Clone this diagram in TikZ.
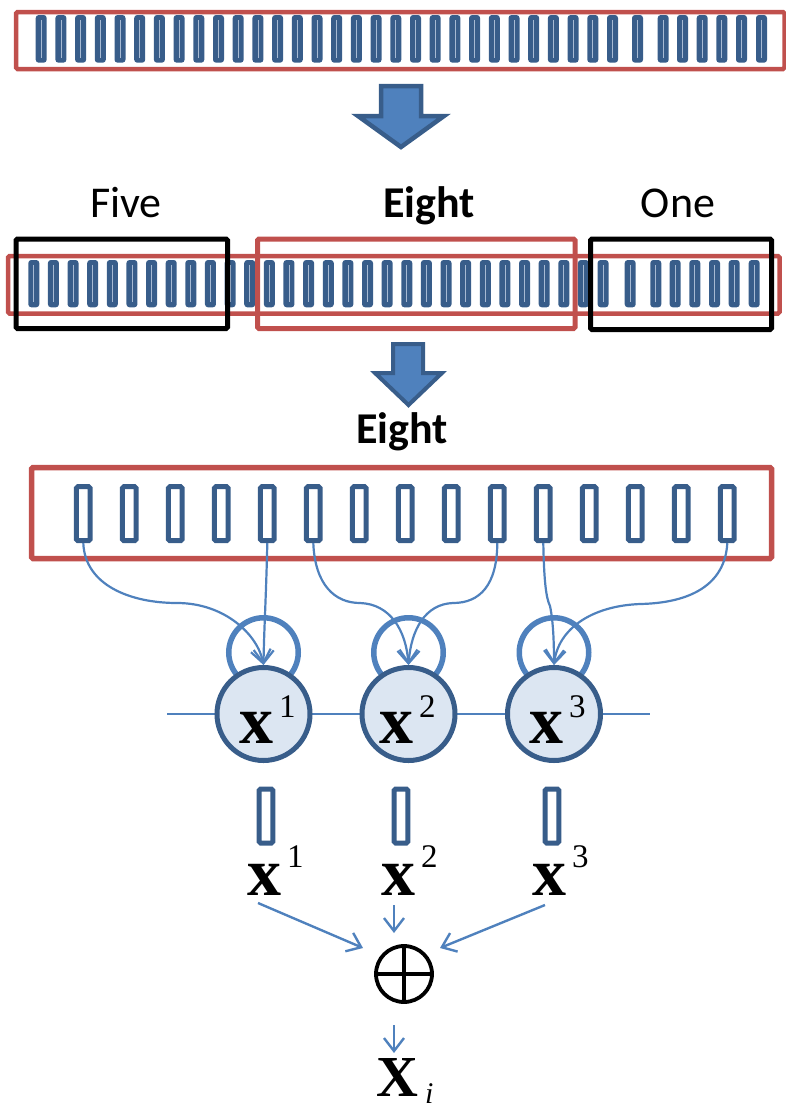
\documentclass[tikz,border=0pt]{standalone}
\usepackage{fontspec}
\newfontfamily\calfont{Carlito}
\newfontfamily\tnr{Liberation Serif}
\usetikzlibrary{arrows.meta}
\definecolor{redb}{HTML}{C0504D}
\definecolor{dkb}{HTML}{385D8A}
\definecolor{mdb}{HTML}{4F81BD}
\definecolor{ltb}{HTML}{DCE6F2}
\definecolor{core}{HTML}{A7BAD3}
\newcommand\vx[3]{{\tnr\fontsize{#1}{#1}\selectfont\bfseries x}\hspace{6pt}\raisebox{#2}{\tnr\fontsize{33}{33}\selectfont #3}}
\begin{document}
\begin{tikzpicture}[x=1pt,y=-1pt,
  redbox/.style={draw=redb,line width=4.5pt,rounded corners=1.5pt},
  blkbox/.style={draw=black,line width=5pt,rounded corners=1.5pt},
  thinbar/.style={fill=dkb,rounded corners=3pt},
  barcore/.style={draw=core,line width=0.7pt},
  fatbar/.style={draw=dkb,fill=white,line width=5pt,rounded corners=1.5pt,minimum width=13.7pt,minimum height=54pt,inner sep=0pt},
  bigarrow/.style={draw=dkb,fill=mdb,line width=4.5pt,line join=miter},
  lab/.style={font=\calfont\fontsize{44}{44}\selectfont,anchor=base,inner sep=0pt},
  blab/.style={font=\calfont\bfseries\fontsize{44}{44}\selectfont,anchor=base,inner sep=0pt},
  state/.style={circle,draw=dkb,fill=ltb,line width=5pt,minimum size=93pt,inner sep=0pt},
  loopc/.style={circle,draw=mdb,line width=5.5pt,minimum size=69.5pt,inner sep=0pt},
  conn/.style={draw=mdb,line width=2.2pt,-{Straight Barb[length=13pt,width=20pt]}},
  sconn/.style={draw=mdb,line width=2.4pt,-{Straight Barb[length=13pt,width=20pt]}},
  hline/.style={draw=mdb,line width=1.8pt},
  mlab/.style={anchor=base west,inner sep=0pt}
]
\useasboundingbox (0,0) rectangle (786,1112);

% ---------- top strip ----------
\draw[redbox] (16,12) rectangle (784.5,69);
\foreach \k in {0,...,29}{
  \pgfmathsetmacro\xx{35.7+19.7*\k}
  \fill[thinbar] (\xx,15) rectangle ++(11,47.7);
  \draw[barcore] (\xx+5.5,20) -- (\xx+5.5,57.7);
}
\foreach \xx in {632,657.7,677,696.7,716.3,736,756}{
  \fill[thinbar] (\xx,15) rectangle ++(11,47.7);
  \draw[barcore] (\xx+5.5,20) -- (\xx+5.5,57.7);
}

% ---------- arrow 1 ----------
\draw[bigarrow] (381,86) -- (421,86) -- (421,116) -- (444,116) -- (401,147) -- (358,116) -- (381,116) -- cycle;

% ---------- labels ----------
\node[lab] (five) at (126,217.5) {Five};
\node[blab] (eightA) at (429,217.5) {Eight};
\node[lab] (one) at (678,217.5) {One};

% ---------- middle strip ----------
\draw[redbox] (8,256) rectangle (779.5,313.5);
\foreach \k in {0,...,29}{
  \pgfmathsetmacro\xx{28.3+19.63*\k}
  \fill[thinbar] (\xx,260) rectangle ++(11,47.3);
  \draw[barcore] (\xx+5.5,265) -- (\xx+5.5,302.3);
}
\foreach \xx in {624.7,650.3,669.7,689.3,709,728.7,748.7}{
  \fill[thinbar] (\xx,260) rectangle ++(11,47.3);
  \draw[barcore] (\xx+5.5,265) -- (\xx+5.5,302.3);
}
\draw[blkbox] (16,239) rectangle (227.5,328.5);
\draw[redbox,line width=5pt] (257.5,239) rectangle (575,328.5);
\draw[blkbox] (590.5,239) rectangle (771.5,329.5);

% ---------- arrow 2 ----------
\draw[bigarrow,line width=4pt] (393,344) -- (423,344) -- (423,373) -- (442,373) -- (408.5,405) -- (375,373) -- (393,373) -- cycle;

\node[blab] (eightB) at (402,443) {Eight};

% ---------- bottom strip ----------
\draw[redbox,line width=5.5pt] (31.5,467.5) rectangle (771.5,558.5);
\foreach \k in {0,...,14}{
  \node[fatbar] (c\k) at (83.3+46*\k,513.7) {};
}

% ---------- chain ----------
\coordinate (hl) at (167,714);
\coordinate (hr) at (650,714);
\node[loopc] (lp1) at (263.5,652.5) {};
\node[loopc] (lp2) at (408.5,652.5) {};
\node[loopc] (lp3) at (554,652.5) {};
\draw[hline] (hl) -- (hr);
\node[state] (n1) at (263.5,714) {};
\node[state] (n2) at (408.5,714) {};
\node[state] (n3) at (554,714) {};
\node[mlab] (t1) at (239,743) {\vx{68}{26pt}{1}};
\node[mlab] (t2) at (379,743) {\vx{68}{26pt}{2}};
\node[mlab] (t3) at (529,743) {\vx{68}{26pt}{3}};

% ---------- curves ----------
\draw[conn] (c0.south) .. controls (85,585) and (130,603) .. (177,603)
            .. controls (225,603) and (258,635) .. (n1.north);
\draw[conn] (c4.south) .. controls (266,600) and (264,630) .. (n1.north);
\draw[conn] (c5.south) .. controls (315,585) and (335,603) .. (360,603)
            .. controls (390,604) and (406,630) .. (n2.north);
\draw[conn] (c9.south) .. controls (497,585) and (480,603) .. (453,603)
            .. controls (425,604) and (411,630) .. (n2.north);
\draw[conn] (c10.south) .. controls (544,580) and (546,598) .. (550,606)
            .. controls (553,620) and (554,640) .. (n3.north);
\draw[conn] (c14.south) .. controls (725,585) and (690,603) .. (640,604)
            .. controls (590,606) and (558,630) .. (n3.north);

% ---------- outputs ----------
\node[fatbar] (s1) at (266,816) {};
\node[fatbar] (s2) at (401,816) {};
\node[fatbar] (s3) at (552,816) {};
\node[mlab] (o1) at (247,895) {\vx{68}{28pt}{1}};
\node[mlab] (o2) at (381,895) {\vx{68}{28pt}{2}};
\node[mlab] (o3) at (532,895) {\vx{68}{28pt}{3}};

\node[circle,draw=black,line width=3.8pt,minimum size=56pt,inner sep=0pt] (plus) at (404,974) {};
\draw[line width=3.5pt,shorten <=3pt,shorten >=3pt] (plus.north) -- (plus.south);
\draw[line width=3.5pt,shorten <=3pt,shorten >=3pt] (plus.west) -- (plus.east);

\coordinate (a1) at (258,903); \coordinate (e1) at (363,948);
\coordinate (a2) at (394,905); \coordinate (e2) at (394,933);
\coordinate (a3) at (545,905); \coordinate (e3) at (440,948);
\coordinate (f1) at (394,1025); \coordinate (f2) at (394,1053);
\draw[sconn] (a1) -- (e1);
\draw[sconn] (a2) -- (e2);
\draw[sconn] (a3) -- (e3);
\draw[sconn] (f1) -- (f2);

\node[mlab] (xi) at (376,1096) {{\tnr\fontsize{58}{58}\selectfont\bfseries X}\hspace{7pt}\raisebox{-7pt}{\tnr\fontsize{30}{30}\selectfont\itshape i}};
\end{tikzpicture}
\end{document}
